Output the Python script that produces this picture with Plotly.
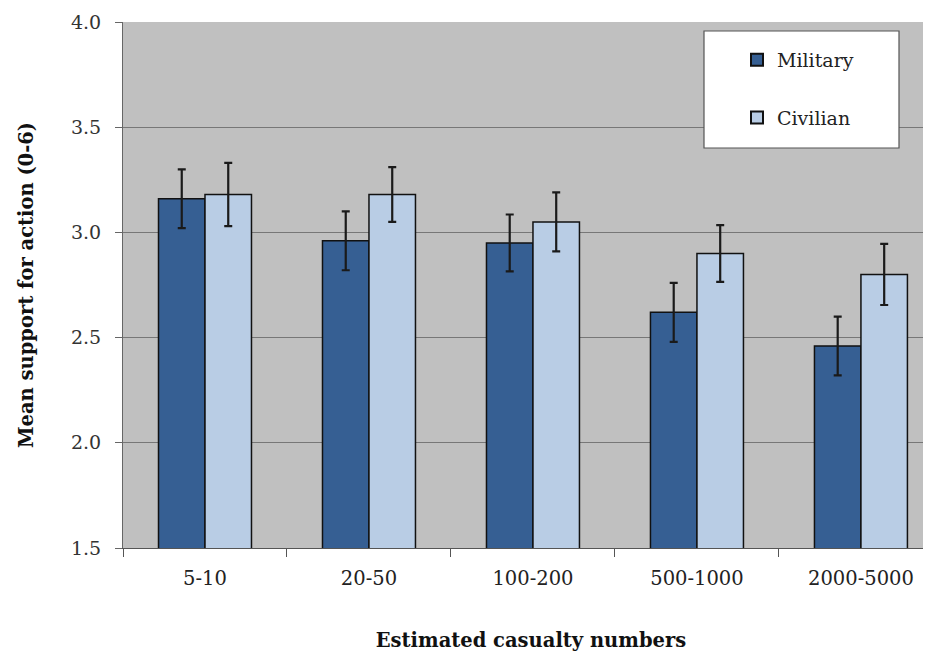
import plotly.graph_objects as go

categories = ["5-10", "20-50", "100-200", "500-1000", "2000-5000"]
military = [3.16, 2.96, 2.95, 2.62, 2.46]
military_err = [0.14, 0.14, 0.135, 0.14, 0.14]
civilian = [3.18, 3.18, 3.05, 2.90, 2.80]
civilian_err = [0.15, 0.13, 0.14, 0.135, 0.145]
y_ticks = [1.5, 2.0, 2.5, 3.0, 3.5, 4.0]

FONT = "DejaVu Serif"

# plot area in screen pixels (page body has an 8px margin)
PL, PT, PW, PH = 123, 22, 816, 526


def px(xs):
    return (xs - PL) / PW


def py(ys):
    return (PT + PH - ys) / PH


fig = go.Figure()
fig.add_trace(go.Bar(
    name="Military", x=categories, y=military, legendgroup="m",
    marker=dict(color="#365f93", line=dict(color="#111111", width=1.5)),
    error_y=dict(type="data", array=military_err, color="#1a1a1a", thickness=2.2, width=4),
))
fig.add_trace(go.Bar(
    name="Civilian", x=categories, y=civilian, legendgroup="c",
    marker=dict(color="#b9cde5", line=dict(color="#111111", width=1.5)),
    error_y=dict(type="data", array=civilian_err, color="#1a1a1a", thickness=2.2, width=4),
))

fig.update_layout(
    width=931, height=656,
    margin=dict(l=115, r=0, t=14, b=116, autoexpand=False),
    paper_bgcolor="white", plot_bgcolor="#c0c0c0",
    barmode="group", bargap=0.433, bargroupgap=0,
    font=dict(family=FONT, size=19, color="#222222"),
    showlegend=True,
    legend=dict(
        x=px(737), y=py(41), xanchor="left", yanchor="top",
        bgcolor="rgba(0,0,0,0)", borderwidth=0,
        font=dict(family=FONT, size=19, color="#222222"),
        tracegroupgap=30, itemsizing="constant",
    ),
    shapes=[dict(
        type="rect", xref="paper", yref="paper",
        x0=px(704), x1=px(899), y0=py(148), y1=py(31),
        fillcolor="white", line=dict(color="#555555", width=1.2), layer="above",
    )],
)

fig.update_xaxes(
    range=[-0.5, 4.476], showgrid=False,
    showline=True, linecolor="#555555", linewidth=1.2,
    ticks="outside", tickson="boundaries", ticklen=8, tickcolor="#555555",
    ticklabelstandoff=12,
    tickfont=dict(family=FONT, size=19.5, color="#222222"),
    title=dict(text="<b>Estimated casualty numbers</b>", standoff=44,
               font=dict(family=FONT, size=19.5, color="#111111")),
)
fig.update_yaxes(
    range=[1.5, 4.0], tickvals=y_ticks, tickformat=".1f",
    showgrid=True, gridcolor="#777777", gridwidth=1,
    showline=True, linecolor="#666666", linewidth=1.2,
    ticks="outside", ticklen=7, tickcolor="#666666",
    ticklabelstandoff=10,
    tickfont=dict(family=FONT, size=19, color="#333333"),
    title=dict(text="<b>Mean support for action (0-6)</b>", standoff=32,
               font=dict(family=FONT, size=19.5, color="#111111")),
    zeroline=False,
)

fig.write_html("out.html")
